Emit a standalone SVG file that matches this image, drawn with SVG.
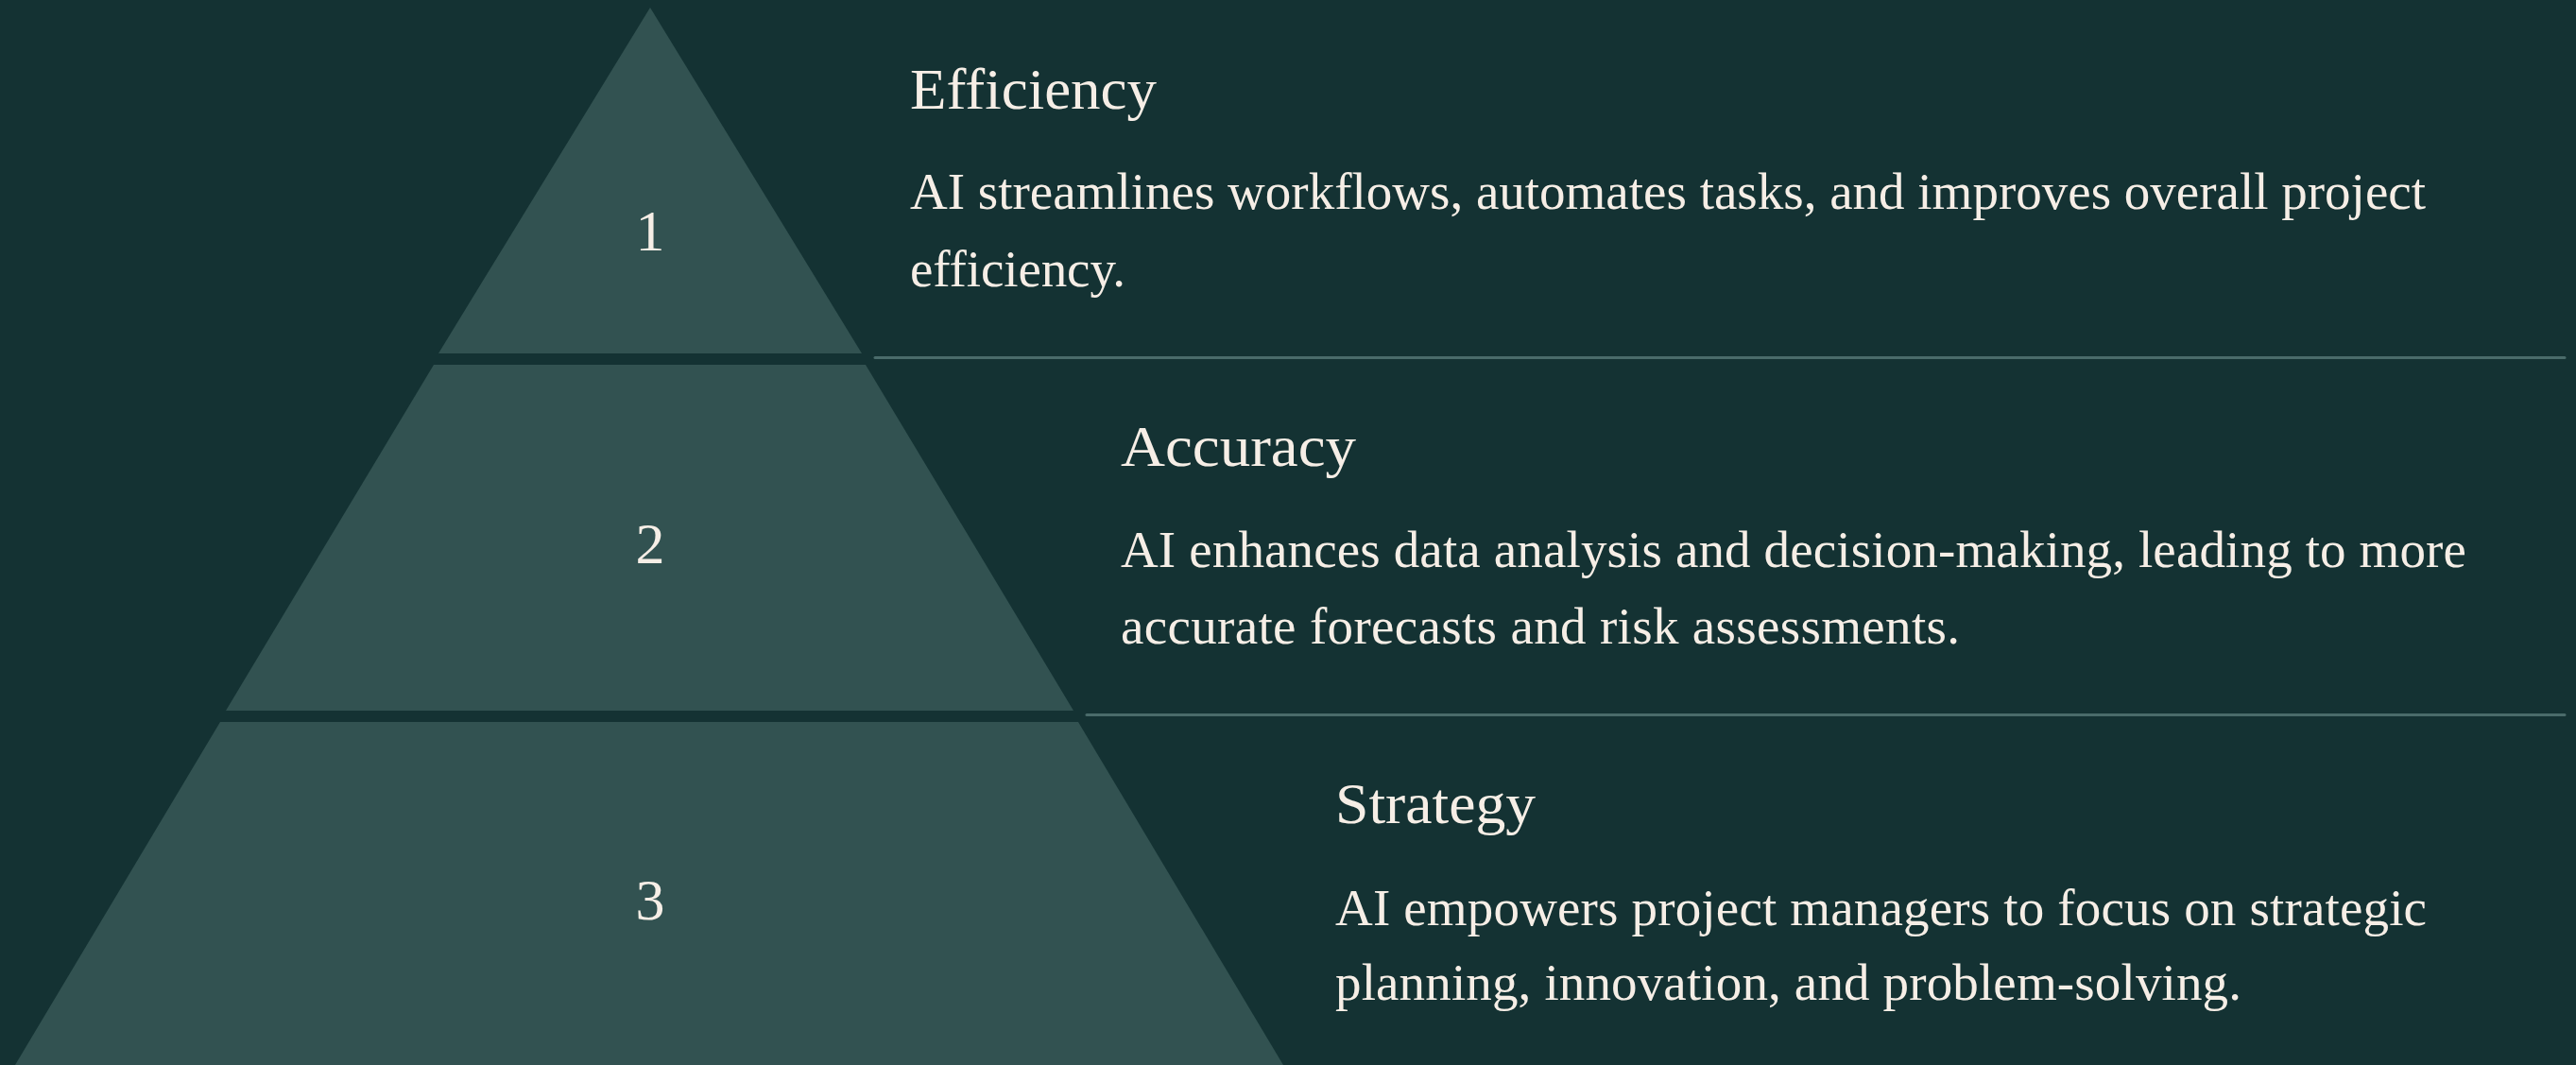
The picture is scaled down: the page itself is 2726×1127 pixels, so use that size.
<svg xmlns="http://www.w3.org/2000/svg" width="2726" height="1127" viewBox="0 0 2726 1127">
  <style>
    .tier { fill: #325251; }
    .num { font-family: "Liberation Serif", "DejaVu Serif", serif; font-size: 62px; fill: #f6eee6; text-anchor: middle; }
    .title { font-family: "Liberation Serif", "DejaVu Serif", serif; font-size: 62px; fill: #f6eee6; }
    .desc { font-family: "Liberation Serif", "DejaVu Serif", serif; font-size: 55px; fill: #f6eee6; }
    .divider { stroke: #4a6b6a; stroke-width: 3; stroke-linecap: round; }
  </style>
  <rect x="0" y="0" width="2726" height="1127" fill="#143233"/>

  <g id="tier-1">
    <polygon class="tier" points="688,8 912,374 464,374"/>
    <text class="num" x="688" y="265">1</text>
    <text class="title" x="963" y="115" textLength="261" lengthAdjust="spacingAndGlyphs">Efficiency</text>
    <text class="desc" x="963" y="221" textLength="1604" lengthAdjust="spacing">AI streamlines workflows, automates tasks, and improves overall project</text>
    <text class="desc" x="963" y="303" textLength="228" lengthAdjust="spacing">efficiency.</text>
  </g>

  <g id="tier-2">
    <polygon class="tier" points="459,386 916,386 1136,752 239,752"/>
    <text class="num" x="688" y="596">2</text>
    <text class="title" x="1186" y="493" textLength="249" lengthAdjust="spacingAndGlyphs">Accuracy</text>
    <text class="desc" x="1186" y="600" textLength="1424" lengthAdjust="spacing">AI enhances data analysis and decision-making, leading to more</text>
    <text class="desc" x="1186" y="681" textLength="888" lengthAdjust="spacing">accurate forecasts and risk assessments.</text>
  </g>

  <g id="tier-3">
    <polygon class="tier" points="233,764 1141,764 1358,1127 16,1127"/>
    <text class="num" x="688" y="973">3</text>
    <text class="title" x="1413" y="871" textLength="212" lengthAdjust="spacingAndGlyphs">Strategy</text>
    <text class="desc" x="1413" y="979" textLength="1155" lengthAdjust="spacing">AI empowers project managers to focus on strategic</text>
    <text class="desc" x="1413" y="1058" textLength="959" lengthAdjust="spacing">planning, innovation, and problem-solving.</text>
  </g>

  <g id="connectors">
    <line class="divider" x1="926" y1="378.5" x2="2714" y2="378.5"/>
    <line class="divider" x1="1150" y1="756.5" x2="2714" y2="756.5"/>
  </g>
</svg>
